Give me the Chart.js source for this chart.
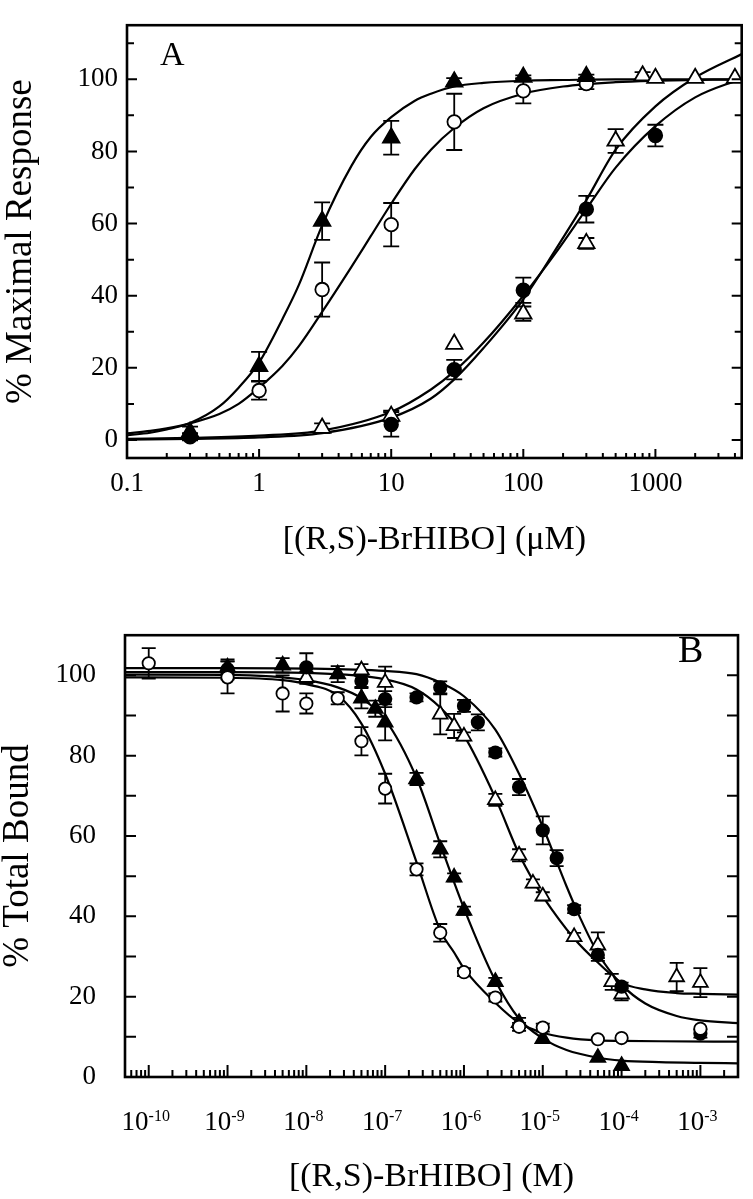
<!DOCTYPE html>
<html>
<head>
<meta charset="utf-8">
<script src="https://cdn.jsdelivr.net/npm/chart.js@4/dist/chart.umd.min.js"></script>
<style>
  body { margin: 0; background: #fff; }
  #wrapA { position: absolute; left: 0; top: 0; width: 753px; height: 590px; }
  #wrapB { position: absolute; left: 0; top: 590px; width: 753px; height: 609px; }
</style>
</head>
<body>
<div id="wrapA"><canvas id="chartA"></canvas></div>
<div id="wrapB"><canvas id="chartB"></canvas></div>
<script>
// ---------- panel A : % maximal response vs [(R,S)-BrHIBO] (uM) ----------
const aTicksX = [0.1, 1, 10, 100, 1000];
const aTickLabelsX = ['0.1', '1', '10', '100', '1000'];
const aTicksY = [0, 20, 40, 60, 80, 100];

// filled triangles
const aTriX = [0.3, 1, 3, 10, 30, 100, 300];
const aTriY = [2.2, 20.4, 60.7, 83.8, 99.3, 100.6, 100.8];
const aTriErr = [1.5, 4, 5.2, 4.7, 1, 0.5, 0.5];
// open circles
const aCircX = [1, 3, 10, 30, 100, 300];
const aCircY = [13.7, 41.7, 59.7, 88.2, 96.8, 98.8];
const aCircErr = [2.5, 7.5, 6, 7.8, 3.5, 1.5];
// filled circles
const aDotX = [0.3, 10, 30, 100, 300, 1000];
const aDotY = [0.9, 4.3, 19.5, 41.5, 64.0, 84.4];
const aDotErr = [1, 3.4, 2.7, 3.5, 3.7, 3];
// open triangles
const aOTriX = [3, 10, 30, 100, 300, 500, 800, 1000, 2000, 4000];
const aOTriY = [3.3, 6.6, 26.6, 35.0, 54.5, 82.9, 101, 100.3, 100.3, 100.3];
const aOTriErr = [1.3, 1.5, 0, 2, 1.5, 3.3, 1, 0, 0, 0];

// fitted curves
const aFitLeftX = [0.1, 0.15, 0.2, 0.3, 0.5, 0.7, 1, 1.5, 2, 3, 5, 7, 10, 15, 20, 30, 50, 100, 200, 500, 1000, 4500];
const aFitTriY = [1.3, 2.0, 2.9, 4.7, 9.3, 14.5, 21.5, 33.5, 43, 59.5, 76, 84, 89.5, 94, 96, 98, 99, 99.6, 99.8, 100, 100, 100];
const aFitCircY = [1.8, 2.5, 3.2, 4.6, 7.2, 10, 14.5, 20.5, 26, 35.5, 48, 56.5, 65.5, 75, 80.5, 86.5, 92, 96, 98, 99.2, 99.6, 100];
const aFitRightX = [0.1, 0.3, 1, 3, 10, 20, 30, 50, 100, 177, 300, 500, 1000, 2000, 4500];
const aFitDotY = [0.3, 0.6, 1.2, 2.6, 7.8, 14, 19, 27, 40, 52, 64, 75.5, 87, 95, 100.2];
const aFitOTriY = [0.1, 0.3, 0.7, 1.9, 6.2, 11.5, 16.8, 25.5, 39, 53, 66.5, 80.5, 92.5, 100.5, 107];

// ---------- panel B : % total bound vs [(R,S)-BrHIBO] (M) ----------
const bTicksX = [1e-10, 1e-9, 1e-8, 1e-7, 1e-6, 1e-5, 1e-4, 1e-3];
const bTickBase = '10';
const bTickExp = ['-10', '-9', '-8', '-7', '-6', '-5', '-4', '-3'];
const bTicksY = [0, 20, 40, 60, 80, 100];

// open circles
const bCircX = [1e-10, 1e-9, 5e-9, 1e-8, 2.5e-8, 5e-8, 1e-7, 2.5e-7, 5e-7, 1e-6, 2.5e-6, 5e-6, 1e-5, 5e-5, 1e-4, 1e-3];
const bCircY = [103, 99.5, 95.5, 93, 94.3, 83.6, 71.8, 51.7, 35.9, 26.1, 19.8, 12.5, 12.3, 9.4, 9.7, 12];
const bCircErr = [3.8, 4, 4.5, 2.5, 1.5, 3.5, 3.7, 1.5, 2.2, 1, 1, 1, 1, 0, 0, 0];
// filled triangles
const bTriX = [1e-9, 5e-9, 2.5e-8, 5e-8, 7.5e-8, 1e-7, 2.5e-7, 5e-7, 7.5e-7, 1e-6, 2.5e-6, 5e-6, 1e-5, 5e-5, 1e-4];
const bTriY = [102, 102.5, 100.3, 94.3, 91.7, 88.3, 74.2, 56.7, 49.7, 41.4, 23.7, 13.5, 9.5, 4.8, 2.8];
const bTriErr = [1.5, 1.8, 2, 2.5, 2, 4.5, 1.5, 2, 1, 1, 1, 1.2, 0, 0, 0];
// filled circles
const bDotX = [1e-9, 1e-8, 5e-8, 1e-7, 2.5e-7, 5e-7, 1e-6, 1.5e-6, 2.5e-6, 5e-6, 1e-5, 1.5e-5, 2.5e-5, 5e-5, 1e-4, 1e-3];
const bDotY = [101.5, 102, 98.6, 94.1, 94.5, 97, 92.4, 88.3, 80.8, 72.2, 61.4, 54.5, 41.8, 30.4, 22.5, 10.8];
const bDotErr = [2.5, 3.5, 1.5, 2, 1, 1.5, 1.5, 2, 1, 2, 3.5, 2, 1, 1.5, 1, 1];
// open triangles
const bOTriX = [1e-8, 5e-8, 1e-7, 5e-7, 7.5e-7, 1e-6, 2.5e-6, 5e-6, 7.5e-6, 1e-5, 2.5e-5, 5e-5, 7.5e-5, 1e-4, 5e-4, 1e-3];
const bOTriY = [99.4, 101.3, 98.2, 90.3, 87.4, 84.8, 69, 55.2, 48.2, 45, 34.9, 32.8, 23.7, 20.6, 24.9, 23.5];
const bOTriErr = [1.5, 1.5, 4, 5, 3, 1, 1.5, 1.5, 1, 1, 1, 3.2, 2, 1.5, 3.5, 3.6];

// fitted curves
const bFitCircX = [5e-11, 1e-9, 5e-9, 1e-8, 2.5e-8, 5e-8, 1e-7, 2.5e-7, 5e-7, 7.5e-7, 1e-6, 2.5e-6, 5e-6, 1e-5, 2e-5, 5e-5, 1e-4, 3e-4, 3e-3];
const bFitCircY = [99.5, 99.4, 98.8, 97.8, 95, 88, 75.5, 53.5, 36.5, 31, 27, 18.5, 13.5, 11, 9.8, 9.1, 9.0, 8.9, 8.8];
const bFitTriX = [5e-11, 1e-9, 1e-8, 2.5e-8, 5e-8, 1e-7, 2.5e-7, 5e-7, 1e-6, 2.5e-6, 5e-6, 1e-5, 2e-5, 5e-5, 1e-4, 3e-4, 1e-3, 3e-3];
const bFitTriY = [100.2, 100.1, 98.8, 97, 94.3, 89, 74.5, 58, 42, 24, 14.5, 9.6, 6.7, 4.8, 4.1, 3.7, 3.5, 3.4];
const bFitDotX = [5e-11, 1e-9, 1e-8, 1e-7, 2.5e-7, 5e-7, 1e-6, 2.5e-6, 5e-6, 1e-5, 2e-5, 3e-5, 5e-5, 1e-4, 2e-4, 5e-4, 1e-3, 3e-3];
const bFitDotY = [101.8, 101.8, 101.7, 101.1, 100.3, 98.2, 94.8, 86.5, 75.5, 62.3, 47.5, 39.5, 30.8, 23, 18.3, 15.2, 14.1, 13.4];
const bFitOTriX = [5e-11, 1e-9, 1e-8, 1e-7, 2.5e-7, 5e-7, 1e-6, 2.5e-6, 5e-6, 7.5e-6, 1e-5, 2.5e-5, 5e-5, 1e-4, 2e-4, 5e-4, 1e-3, 3e-3];
const bFitOTriY = [100.8, 100.8, 100.6, 99, 96.5, 92, 85, 69.5, 55.5, 49, 45, 34.5, 28.5, 23.5, 21.8, 20.9, 20.7, 20.5];

const SERIF = '"Liberation Serif", "Times New Roman", serif';

function pts(xs, ys) {
    return xs.map((x, i) => ({ x: x, y: ys[i] }));
}

function markers(xs, ys, errs, style, filled, r) {
    return {
        data: pts(xs, ys),
        errs: errs,
        pointStyle: style,
        pointRadius: r,
        pointHoverRadius: r,
        backgroundColor: filled ? '#000' : '#fff',
        borderColor: '#000',
        borderWidth: 1.8,
        showLine: false,
        order: 1
    };
}

function curve(xs, ys) {
    return {
        data: pts(xs, ys),
        showLine: true,
        borderColor: '#000',
        borderWidth: 2.2,
        pointRadius: 0,
        fill: false,
        cubicInterpolationMode: 'monotone',
        order: 2
    };
}

// vertical error bars with caps, drawn under the markers
const errorBars = {
    id: 'errorBars',
    beforeDatasetsDraw(chart, args, opts) {
        const ctx = chart.ctx;
        const xs = chart.scales.x, ys = chart.scales.y;
        ctx.save();
        ctx.strokeStyle = '#000';
        ctx.lineWidth = 1.8;
        chart.data.datasets.forEach(ds => {
            if (!ds.errs) return;
            ds.data.forEach((p, i) => {
                const e = ds.errs[i];
                if (!e) return;
                const px = xs.getPixelForValue(p.x);
                const y1 = ys.getPixelForValue(p.y + e);
                const y2 = ys.getPixelForValue(p.y - e);
                ctx.beginPath();
                ctx.moveTo(px, y1); ctx.lineTo(px, y2);
                ctx.moveTo(px - opts.cap, y1); ctx.lineTo(px + opts.cap, y1);
                ctx.moveTo(px - opts.cap, y2); ctx.lineTo(px + opts.cap, y2);
                ctx.stroke();
            });
        });
        ctx.restore();
    }
};

// box frame, inward ticks, panel letter and (for B) powers-of-ten labels
const frame = {
    id: 'frame',
    afterDraw(chart, args, o) {
        const ctx = chart.ctx, a = chart.chartArea;
        const xs = chart.scales.x, ys = chart.scales.y;
        ctx.save();
        ctx.strokeStyle = '#000';
        ctx.lineWidth = 2;
        ctx.beginPath();
        o.yMajor.forEach(v => {
            const y = ys.getPixelForValue(v);
            ctx.moveTo(a.left, y); ctx.lineTo(a.left + o.yMajorLen, y);
            ctx.moveTo(a.right, y); ctx.lineTo(a.right - o.yMajorLen, y);
        });
        o.yMinor.forEach(v => {
            const y = ys.getPixelForValue(v);
            ctx.moveTo(a.left, y); ctx.lineTo(a.left + o.yMinorLen, y);
            ctx.moveTo(a.right, y); ctx.lineTo(a.right - o.yMinorLen, y);
        });
        const lo = Math.floor(Math.log10(xs.min)), hi = Math.ceil(Math.log10(xs.max));
        for (let k = lo; k <= hi; k++) {
            for (let m = 1; m <= 9; m++) {
                const v = m * Math.pow(10, k);
                if (v < xs.min * 0.999 || v > xs.max * 1.001) continue;
                const x = xs.getPixelForValue(v);
                const len = m === 1 ? o.xMajorLen : o.xMinorLen;
                ctx.moveTo(x, a.bottom); ctx.lineTo(x, a.bottom - len);
            }
        }
        ctx.stroke();
        ctx.lineWidth = 2.6;
        ctx.strokeRect(a.left, a.top, a.right - a.left, a.bottom - a.top);
        ctx.fillStyle = '#000';
        ctx.font = o.letterFont;
        ctx.textBaseline = 'alphabetic';
        ctx.fillText(o.letter, o.letterX, o.letterY);
        if (o.powers) {
            const baseFont = '27px ' + SERIF, expFont = '16px ' + SERIF;
            o.powers.ticks.forEach((v, i) => {
                ctx.font = baseFont;
                const wb = ctx.measureText(o.powers.base).width;
                ctx.font = expFont;
                const we = ctx.measureText(o.powers.exp[i]).width;
                const x0 = xs.getPixelForValue(v) - (wb + we) / 2 - 3;
                const yb = a.bottom + o.powers.baseline;
                ctx.textAlign = 'left';
                ctx.font = baseFont;
                ctx.fillText(o.powers.base, x0, yb);
                ctx.font = expFont;
                ctx.fillText(o.powers.exp[i], x0 + wb, yb - 9);
            });
        }
        ctx.restore();
    }
};

function baseOptions(cfg) {
    return {
        responsive: true,
        maintainAspectRatio: false,
        animation: false,
        devicePixelRatio: 1,
        layout: { padding: cfg.pad },
        plugins: {
            legend: { display: false },
            tooltip: { enabled: false },
            errorBars: { cap: cfg.cap },
            frame: cfg.frame
        },
        scales: {
            x: {
                type: 'logarithmic',
                min: cfg.xMin,
                max: cfg.xMax,
                grid: { display: false, drawTicks: false },
                border: { display: false },
                afterBuildTicks: s => { s.ticks = cfg.xTicks.map(v => ({ value: v })); },
                afterFit: s => { s.height = cfg.xHeight; },
                ticks: {
                    display: cfg.xLabels !== null,
                    autoSkip: false,
                    maxRotation: 0,
                    padding: cfg.xPad,
                    color: '#000',
                    font: { family: SERIF, size: 27 },
                    callback: (v, i) => cfg.xLabels ? cfg.xLabels[i] : ''
                },
                title: {
                    display: true,
                    text: cfg.xTitle,
                    color: '#000',
                    font: { family: SERIF, size: 34, lineHeight: 1.2 },
                    padding: { top: 0, bottom: cfg.xTitlePad }
                }
            },
            y: {
                type: 'linear',
                min: cfg.yMin,
                max: cfg.yMax,
                grid: { display: false, drawTicks: false },
                border: { display: false },
                afterBuildTicks: s => { s.ticks = cfg.yTicks.map(v => ({ value: v })); },
                afterFit: s => { s.width = cfg.yWidth; },
                ticks: {
                    padding: cfg.yPad,
                    color: '#000',
                    font: { family: SERIF, size: 27 }
                },
                title: {
                    display: true,
                    text: cfg.yTitle,
                    color: '#000',
                    font: { family: SERIF, size: 37, lineHeight: 1 },
                    padding: { top: cfg.yTitlePad, bottom: 0 }
                }
            }
        }
    };
}

new Chart(document.getElementById('chartA'), {
    type: 'scatter',
    data: {
        datasets: [
            curve(aFitLeftX, aFitTriY),
            curve(aFitLeftX, aFitCircY),
            curve(aFitRightX, aFitDotY),
            curve(aFitRightX, aFitOTriY),
            markers(aTriX, aTriY, aTriErr, 'triangle', true, 9.5),
            markers(aCircX, aCircY, aCircErr, 'circle', false, 6.8),
            markers(aDotX, aDotY, aDotErr, 'circle', true, 6.8),
            markers(aOTriX, aOTriY, aOTriErr, 'triangle', false, 9.5)
        ]
    },
    options: baseOptions({
        pad: { top: 7, right: 8, left: 0, bottom: 0 },
        cap: 8,
        xMin: 0.1, xMax: 4500, xTicks: aTicksX, xLabels: aTickLabelsX,
        xHeight: 132, xPad: 10, xTitle: '[(R,S)-BrHIBO] (\u03BCM)', xTitlePad: 30,
        yMin: -5, yMax: 115, yTicks: aTicksY,
        yWidth: 127, yPad: 9, yTitle: '% Maximal Response', yTitlePad: 2.5,
        frame: {
            yMajor: [0, 20, 40, 60, 80, 100], yMinor: [10, 30, 50, 70, 90, 110],
            yMajorLen: 10, yMinorLen: 7, xMajorLen: 9, xMinorLen: 5,
            letter: 'A', letterFont: '34px ' + SERIF, letterX: 160, letterY: 65
        }
    }),
    plugins: [errorBars, frame]
});

new Chart(document.getElementById('chartB'), {
    type: 'scatter',
    data: {
        datasets: [
            curve(bFitCircX, bFitCircY),
            curve(bFitTriX, bFitTriY),
            curve(bFitDotX, bFitDotY),
            curve(bFitOTriX, bFitOTriY),
            markers(bCircX, bCircY, bCircErr, 'circle', false, 6.2),
            markers(bTriX, bTriY, bTriErr, 'triangle', true, 8.5),
            markers(bDotX, bDotY, bDotErr, 'circle', true, 6.2),
            markers(bOTriX, bOTriY, bOTriErr, 'triangle', false, 8.5)
        ]
    },
    options: baseOptions({
        pad: { top: 20, right: 15, left: 0, bottom: 0 },
        cap: 7,
        xMin: 5e-11, xMax: 3e-3, xTicks: bTicksX, xLabels: null,
        xHeight: 122, xPad: 28, xTitle: '[(R,S)-BrHIBO] (M)', xTitlePad: 2,
        yMin: 0, yMax: 110, yTicks: bTicksY,
        yWidth: 125, yPad: 29, yTitle: '% Total Bound', yTitlePad: 0,
        frame: {
            yMajor: [10, 20, 30, 40, 50, 60, 70, 80, 90, 100], yMinor: [],
            yMajorLen: 11, yMinorLen: 11, xMajorLen: 12, xMinorLen: 7,
            letter: 'B', letterFont: '38px ' + SERIF, letterX: 678, letterY: 72,
            powers: { ticks: bTicksX, base: bTickBase, exp: bTickExp, baseline: 53 }
        }
    }),
    plugins: [errorBars, frame]
});
</script>
</body>
</html>
